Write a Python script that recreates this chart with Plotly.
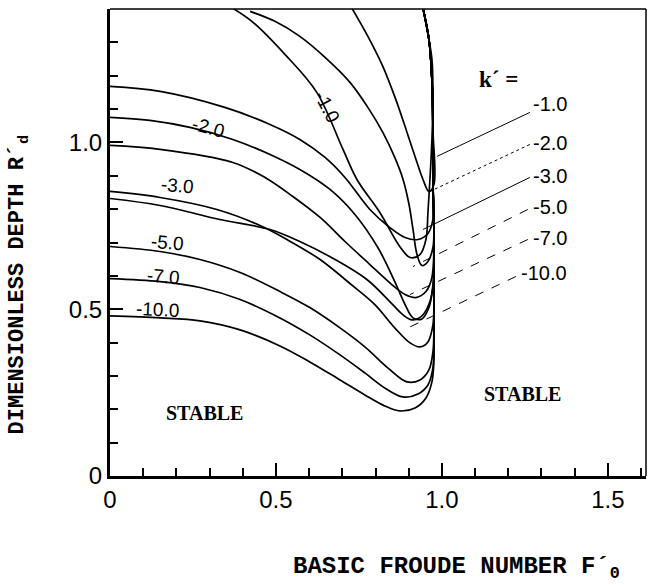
import plotly.graph_objects as go

# Shared near-vertical arm (F'0, R'd) that every neutral curve climbs to the top
ARM_F = [0.976, 0.976, 0.976, 0.973, 0.973, 0.970, 0.961, 0.943]
ARM_R = [0.438, 0.589, 0.739, 0.889, 1.039, 1.189, 1.309, 1.402]

# k' = -1.0 : single U-shaped neutral curve, both ends at the top
K1_F = [0.370, 0.431, 0.527, 0.623, 0.702, 0.744, 0.813, 0.873, 0.904, 0.934, 0.952, 0.958, 0.964, 0.970, 0.973, 0.970, 0.958, 0.943]
K1_R = [1.402, 1.360, 1.264, 1.150, 0.979, 0.889, 0.790, 0.688, 0.655, 0.664, 0.709, 0.790, 0.889, 1.009, 1.129, 1.249, 1.324, 1.402]

# lower branches (labelled at the left)
K2_LO_F = [0.000, 0.120, 0.241, 0.370, 0.482, 0.572, 0.663, 0.738, 0.807, 0.858, 0.889, 0.913, 0.940, 0.961, 0.973]
K2_LO_R = [1.075, 1.066, 1.045, 1.009, 0.964, 0.919, 0.859, 0.784, 0.685, 0.583, 0.514, 0.474, 0.471, 0.505, 0.565]
K3_LO_F = [0.000, 0.151, 0.322, 0.452, 0.533, 0.633, 0.723, 0.798, 0.858, 0.904, 0.934, 0.958, 0.973, 0.976]
K3_LO_R = [0.853, 0.835, 0.799, 0.751, 0.709, 0.649, 0.577, 0.514, 0.444, 0.399, 0.387, 0.402, 0.453, 0.529]
K5_LO_F = [0.000, 0.151, 0.271, 0.392, 0.512, 0.602, 0.693, 0.768, 0.837, 0.895, 0.934, 0.961, 0.973, 0.976]
K5_LO_R = [0.688, 0.673, 0.649, 0.610, 0.553, 0.505, 0.444, 0.387, 0.324, 0.282, 0.288, 0.318, 0.372, 0.438]
K7_LO_F = [0.000, 0.151, 0.271, 0.392, 0.512, 0.602, 0.693, 0.768, 0.828, 0.883, 0.928, 0.958, 0.973, 0.976]
K7_LO_R = [0.592, 0.583, 0.565, 0.529, 0.474, 0.423, 0.363, 0.309, 0.264, 0.237, 0.246, 0.273, 0.324, 0.393]
K10_LO_F = [0.000, 0.151, 0.271, 0.392, 0.512, 0.602, 0.693, 0.768, 0.828, 0.873, 0.919, 0.952, 0.970, 0.976]
K10_LO_R = [0.480, 0.474, 0.465, 0.438, 0.390, 0.342, 0.288, 0.243, 0.210, 0.195, 0.204, 0.234, 0.282, 0.348]

# upper branches
K2_UP_F = [0.729, 0.777, 0.822, 0.861, 0.895, 0.922, 0.943, 0.961, 0.976]
K2_UP_R = [1.402, 1.318, 1.228, 1.129, 1.030, 0.949, 0.889, 0.853, 0.874]
K3_UP_F = [0.000, 0.151, 0.346, 0.482, 0.572, 0.648, 0.708, 0.783, 0.843, 0.889, 0.928, 0.958, 0.973]
K3_UP_R = [1.168, 1.153, 1.105, 1.054, 1.009, 0.955, 0.895, 0.799, 0.745, 0.715, 0.709, 0.727, 0.769]
K5_UP_F = [0.422, 0.497, 0.572, 0.648, 0.723, 0.777, 0.822, 0.858, 0.883, 0.901, 0.913, 0.925, 0.940, 0.958, 0.973]
K5_UP_R = [1.393, 1.363, 1.318, 1.255, 1.180, 1.105, 1.030, 0.955, 0.889, 0.814, 0.739, 0.664, 0.631, 0.643, 0.685]
K7_UP_F = [0.000, 0.151, 0.370, 0.467, 0.551, 0.633, 0.708, 0.783, 0.849, 0.889, 0.922, 0.952, 0.970]
K7_UP_R = [0.991, 0.979, 0.940, 0.895, 0.838, 0.775, 0.703, 0.634, 0.574, 0.544, 0.535, 0.553, 0.595]
K10_UP_F = [0.000, 0.151, 0.331, 0.482, 0.572, 0.678, 0.774, 0.843, 0.883, 0.910, 0.940, 0.964, 0.973]
K10_UP_R = [0.832, 0.811, 0.769, 0.739, 0.703, 0.649, 0.589, 0.523, 0.483, 0.468, 0.480, 0.523, 0.574]

BRANCHES = [
    (K2_LO_F, K2_LO_R), (K3_LO_F, K3_LO_R), (K5_LO_F, K5_LO_R),
    (K7_LO_F, K7_LO_R), (K10_LO_F, K10_LO_R),
    (K2_UP_F, K2_UP_R), (K3_UP_F, K3_UP_R), (K5_UP_F, K5_UP_R),
    (K7_UP_F, K7_UP_R), (K10_UP_F, K10_UP_R),
]

K_LABELS = ["-1.0", "-2.0", "-3.0", "-5.0", "-7.0", "-10.0"]
# centre of each in-curve label and its slope angle
CURVE_LABEL_F = [0.654, 0.298, 0.202, 0.172, 0.160, 0.142]
CURVE_LABEL_R = [1.108, 1.045, 0.871, 0.700, 0.598, 0.498]
CURVE_LABEL_ANGLE = [62, 15, 5, 5, 5, 3]
# list on the right with leader lines to the curves
LEGEND_F = [1.268, 1.268, 1.268, 1.268, 1.268, 1.232]
LEGEND_R = [1.114, 0.998, 0.899, 0.805, 0.715, 0.610]
LEADER_F0 = [1.265, 1.265, 1.265, 1.259, 1.259, 1.223]
LEADER_R0 = [1.090, 0.994, 0.895, 0.799, 0.709, 0.598]
LEADER_F1 = [0.985, 0.964, 0.943, 0.913, 0.904, 0.904]
LEADER_R1 = [0.958, 0.853, 0.739, 0.628, 0.544, 0.447]
LEADER_DASH = ["solid", "dot", "solid", "dash", "dash", "dash"]

X_TICKS = [0, 0.5, 1.0, 1.5]
X_TICK_TEXT = ["0", "0.5", "1.0", "1.5"]
Y_TICKS = [0, 0.5, 1.0]
Y_TICK_TEXT = ["0", "0.5", "1.0"]

LINE = dict(color="black", width=1.7, shape="spline", smoothing=1.0)

fig = go.Figure()
fig.add_trace(go.Scatter(x=K1_F, y=K1_R, mode="lines", line=LINE, hoverinfo="skip"))
for bf, br in BRANCHES:
    xs = list(bf)
    ys = list(br)
    for af, ar in zip(ARM_F, ARM_R):
        if ar > ys[-1] + 0.02:
            xs.append(af)
            ys.append(ar)
    fig.add_trace(go.Scatter(x=xs, y=ys, mode="lines", line=LINE, hoverinfo="skip"))

for x0, y0, x1, y1, d in zip(LEADER_F0, LEADER_R0, LEADER_F1, LEADER_R1, LEADER_DASH):
    fig.add_trace(go.Scatter(x=[x0, x1], y=[y0, y1], mode="lines",
                             line=dict(color="black", width=1, dash=d), hoverinfo="skip"))

fig.update_traces(showlegend=False)

label_font = dict(family="Liberation Sans, Arial, sans-serif", size=19, color="black")
for t, fx, ry, a in zip(K_LABELS, CURVE_LABEL_F, CURVE_LABEL_R, CURVE_LABEL_ANGLE):
    fig.add_annotation(x=fx, y=ry, text=t, showarrow=False, textangle=a,
                       font=label_font, xanchor="center", yanchor="middle")
legend_font = dict(family="Liberation Sans, Arial, sans-serif", size=20, color="black")
for t, fx, ry in zip(K_LABELS, LEGEND_F, LEGEND_R):
    fig.add_annotation(x=fx, y=ry, text=t, showarrow=False, font=legend_font,
                       xanchor="left", yanchor="middle")

serif = dict(family="Liberation Serif, Times New Roman, serif", size=20, color="black")
fig.add_annotation(x=1.105, y=1.19, text="<b>k´ =</b>", showarrow=False,
                   font=dict(family="Liberation Serif, Times New Roman, serif", size=23, color="black"),
                   xanchor="left", yanchor="middle")
fig.add_annotation(x=0.285, y=0.19, text="<b>STABLE</b>", showarrow=False, font=serif)
fig.add_annotation(x=1.243, y=0.245, text="<b>STABLE</b>", showarrow=False, font=serif)

fig.add_annotation(xref="paper", yref="paper", x=-0.17, y=0.41,
                   text="<b>DIMENSIONLESS DEPTH R´<sub>d</sub></b>", textangle=-90,
                   showarrow=False, xanchor="center", yanchor="middle",
                   font=dict(family="Liberation Mono, Courier New, monospace", size=22, color="black"))
fig.add_annotation(xref="paper", yref="paper", x=0.955, y=-0.197,
                   text="<b>BASIC FROUDE NUMBER F´<sub>0</sub></b>", xanchor="right",
                   yanchor="middle", showarrow=False,
                   font=dict(family="Liberation Mono, Courier New, monospace", size=24, color="black"))

# thinner top and right frame
fig.add_shape(type="line", xref="paper", yref="paper", x0=0, x1=1, y0=1, y1=1,
              line=dict(color="black", width=1.5))
fig.add_shape(type="line", xref="paper", yref="paper", x0=1, x1=1, y0=0, y1=1,
              line=dict(color="black", width=1.5))

tick_font = dict(family="Liberation Sans, Arial, sans-serif", size=24, color="black")
fig.update_xaxes(range=[0, 1.615], tickvals=X_TICKS, ticktext=X_TICK_TEXT,
                 ticks="inside", ticklen=13, tickwidth=2, tickcolor="black",
                 minor=dict(dtick=0.1, ticks="inside", ticklen=8, tickwidth=2, tickcolor="black"),
                 showline=True, linewidth=3, linecolor="black", showgrid=False,
                 zeroline=False, tickfont=tick_font)
fig.update_yaxes(range=[0, 1.40], tickvals=Y_TICKS, ticktext=Y_TICK_TEXT,
                 ticks="inside", ticklen=13, tickwidth=2, tickcolor="black",
                 minor=dict(dtick=0.1, ticks="inside", ticklen=8, tickwidth=2, tickcolor="black"),
                 showline=True, linewidth=3, linecolor="black", showgrid=False,
                 zeroline=False, tickfont=tick_font)
fig.update_layout(width=650, height=585, margin=dict(l=110, r=4, t=9, b=109),
                  plot_bgcolor="white", paper_bgcolor="white", showlegend=False)
fig.write_html("out.html")
